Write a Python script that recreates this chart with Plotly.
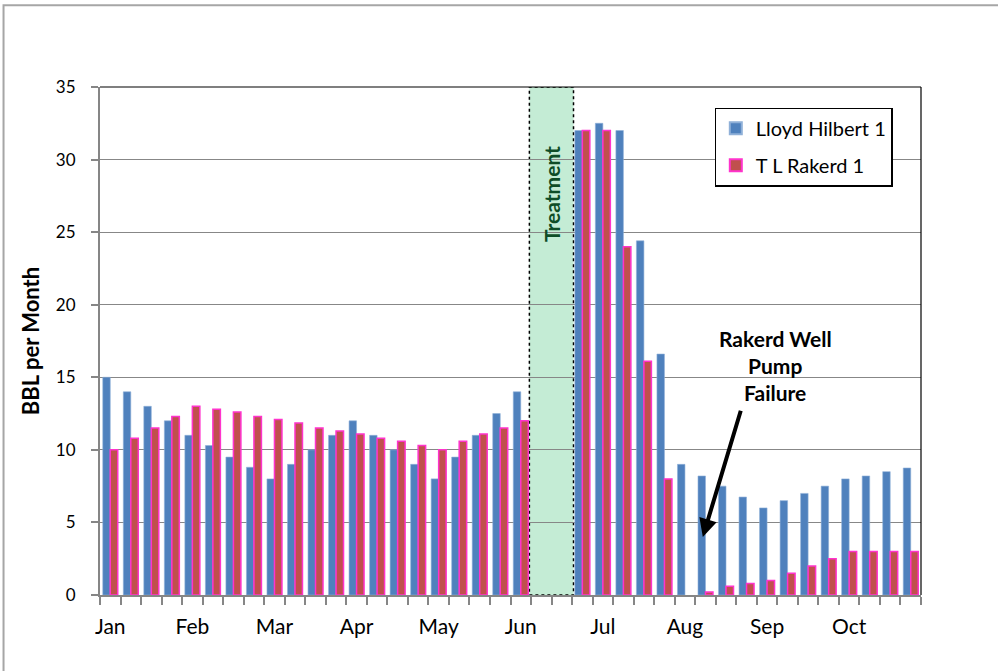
import plotly.graph_objects as go

# ---------------- data ----------------
months = ["Jan", "Feb", "Mar", "Apr", "May", "Jun", "Jul", "Aug", "Sep", "Oct"]
weeks_per_month = 4
weeks = [f"{m} W{w}" for m in months for w in range(1, weeks_per_month + 1)]

lloyd_hilbert = [15, 14, 13, 12, 11, 10.3, 9.5, 8.8, 8, 9,
                 10, 11, 12, 11, 10, 9, 8, 9.5, 11, 12.5,
                 14, None, None, 32, 32.5, 32, 24.4, 16.6, 9, 8.2,
                 7.5, 6.75, 6, 6.5, 7, 7.5, 8, 8.2, 8.5, 8.75]
tl_rakerd = [10, 10.8, 11.5, 12.3, 13, 12.8, 12.6, 12.3, 12.1, 11.85,
             11.5, 11.3, 11.1, 10.8, 10.6, 10.3, 10, 10.6, 11.1, 11.5,
             12, None, None, 32, 32, 24, 16.1, 8, None, 0.2,
             0.6, 0.8, 1.0, 1.5, 2, 2.5, 3, 3, 3, 3]

series_names = ["Lloyd Hilbert 1", "T L Rakerd 1"]
treatment_weeks = ["Jun W2", "Jun W3"]
treatment_label = "Treatment"
note_lines = ["Rakerd Well", "Pump", "Failure"]
note_week = "Aug W2"          # week the arrow points at
y_title = "BBL per Month"
y_max = 35
y_step = 5

# ---------------- figure ----------------
pos = list(range(len(weeks)))
FONT = "Lato, 'Open Sans', sans-serif"

fig = go.Figure()
fig.add_trace(go.Bar(
    x=pos, y=lloyd_hilbert, name=series_names[0], legendgroup="a",
    marker=dict(color="#4F81BD", line=dict(color="#8FB0D8", width=0.6)),
))
fig.add_trace(go.Bar(
    x=pos, y=tl_rakerd, name=series_names[1], legendgroup="b",
    marker=dict(color="#C0504D", line=dict(color="#FF33CC", width=1.5)),
))

t0 = weeks.index(treatment_weeks[0])
t1 = weeks.index(treatment_weeks[-1])
fig.add_shape(type="rect", xref="x", yref="y",
              x0=t0 - 0.58, x1=t1 + 0.57, y0=0, y1=y_max,
              fillcolor="#C4ECD5", line=dict(color="black", width=1.5, dash="dot"),
              layer="below")
fig.add_annotation(x=(t0 + t1) / 2, y=27.6, xref="x", yref="y",
                   text=f"<b>{treatment_label}</b>", showarrow=False, textangle=-90,
                   font=dict(family=FONT, size=21, color="#0E4D27"))

# pump failure note
nx = weeks.index(note_week)
for i, line in enumerate(note_lines):
    fig.add_annotation(x=nx + 3.4, y=17.7 - i * 1.86, xref="x", yref="y",
                       text=f"<b>{line}</b>", showarrow=False,
                       font=dict(family=FONT, size=21, color="black"))
fig.add_annotation(x=nx - 0.13, y=4.0, ax=nx + 1.74, ay=12.8,
                   xref="x", yref="y", axref="x", ayref="y",
                   text="", showarrow=True, arrowhead=2, arrowsize=0.9,
                   arrowwidth=4, arrowcolor="black")

# plot frame (top / right black) and outer chart border
fig.add_shape(type="line", xref="paper", yref="paper", x0=0, x1=1, y0=1, y1=1,
              line=dict(color="black", width=1.2))
fig.add_shape(type="line", xref="paper", yref="paper", x0=1, x1=1, y0=0, y1=1,
              line=dict(color="black", width=1.2))
fig.add_shape(type="rect", xref="paper", yref="paper",
              x0=-0.1175, x1=1.2, y0=-0.3, y1=1.161,
              line=dict(color="#A6A6A6", width=2), fillcolor="rgba(0,0,0,0)")

fig.update_layout(
    width=998, height=671,
    margin=dict(l=100, r=77, t=87, b=76),
    paper_bgcolor="white", plot_bgcolor="white",
    barmode="group", bargap=0.27, bargroupgap=0,
    font=dict(family=FONT, size=16, color="black"),
    showlegend=True,
    legend=dict(x=0.7486, y=0.9596, xanchor="left", yanchor="top",
                bgcolor="white", bordercolor="black", borderwidth=1.2,
                font=dict(family=FONT, size=20), tracegroupgap=8,
                itemsizing="constant"),
    xaxis=dict(
        range=[-0.5, len(weeks) - 0.5],
        tickmode="array",
        tickvals=[weeks.index(f"{m} W1") for m in months],
        ticktext=months, ticks="", ticklabelstandoff=12,
        tickfont=dict(family=FONT, size=21),
        showgrid=False, zeroline=False,
        showline=True, linecolor="#868686", linewidth=2,
        minor=dict(tick0=-0.5, dtick=1, ticks="outside", ticklen=8,
                   tickcolor="#868686", tickwidth=1.5, showgrid=False),
    ),
    yaxis=dict(
        range=[0, y_max], dtick=y_step, tick0=0,
        ticks="outside", ticklen=7, tickcolor="#868686", tickwidth=1.5,
        ticklabelstandoff=12,
        tickfont=dict(family=FONT, size=17),
        showgrid=True, gridcolor="#878787", gridwidth=1,
        zeroline=False, showline=True, linecolor="#868686", linewidth=2,
        title=dict(text=f"<b>{y_title}</b>", font=dict(family=FONT, size=22),
                   standoff=10),
    ),
)

fig.write_html("out.html", config={"displayModeBar": False},
               post_script="document.body.style.margin='0';")
